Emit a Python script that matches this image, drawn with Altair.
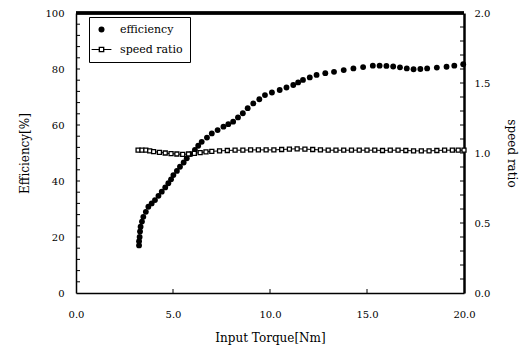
import altair as alt
import pandas as pd

# ---- data ----
torque_eff = [3.25, 3.25, 3.28, 3.30, 3.33, 3.40, 3.47, 3.60, 3.73, 3.90, 4.07, 4.25, 4.42, 4.60,
              4.76, 4.90, 5.02, 5.20, 5.36, 5.55, 5.71, 5.92, 6.13, 6.30, 6.48, 6.75, 7.00, 7.30,
              7.60, 7.85, 8.10, 8.35, 8.60, 8.85, 9.14, 9.45, 9.74, 10.1, 10.5, 10.85, 11.2, 11.45,
              11.7, 12.05, 12.4, 12.85, 13.3, 13.8, 14.3, 14.8, 15.3, 15.65, 16.0, 16.35, 16.7,
              17.05, 17.4, 17.75, 18.1, 18.6, 19.1, 19.5, 19.96]
efficiency = [17.0, 18.5, 20.0, 22.0, 23.7, 25.5, 27.2, 29.0, 30.8, 32.0, 33.2, 34.7, 36.2, 37.7,
              39.2, 40.6, 42.1, 43.6, 45.1, 46.6, 48.1, 49.6, 51.1, 52.6, 54.0, 55.5, 57.0, 58.2,
              59.4, 60.3, 61.2, 62.7, 64.2, 66.0, 67.7, 69.2, 70.7, 71.6, 72.5, 73.4, 74.3, 75.2,
              76.1, 77.0, 77.9, 78.5, 79.0, 79.6, 80.2, 80.7, 81.2, 81.2, 81.1, 80.9, 80.6,
              80.2, 79.9, 80.0, 80.2, 80.5, 80.8, 81.2, 81.7]

torque_ratio = [3.2, 3.4, 3.6, 3.8, 4.0, 4.3, 4.6, 4.9, 5.2, 5.5, 5.8, 6.1, 6.4, 6.7, 7.0, 7.4,
                7.8, 8.2, 8.6, 9.0, 9.4, 9.8, 10.2, 10.6, 11.0, 11.4, 11.8, 12.2, 12.6, 13.0, 13.4,
                13.8, 14.2, 14.6, 15.0, 15.4, 15.8, 16.2, 16.6, 17.0, 17.4, 17.8, 18.2, 18.6, 19.0,
                19.4, 19.7, 20.0]
speed_ratio = [1.02, 1.02, 1.02, 1.015, 1.01, 1.005, 1.0, 0.995, 0.993, 0.99, 0.993, 0.998, 1.003,
               1.008, 1.012, 1.015, 1.018, 1.02, 1.02, 1.022, 1.022, 1.022, 1.022, 1.025, 1.028,
               1.03, 1.028, 1.025, 1.022, 1.02, 1.02, 1.02, 1.02, 1.02, 1.02, 1.02, 1.018, 1.02,
               1.02, 1.018, 1.015, 1.015, 1.015, 1.018, 1.02, 1.02, 1.02, 1.02]

x_label_values = [0, 5, 10, 15, 20]
left_label_values = [0, 20, 40, 60, 80, 100]
right_label_values = [0, 0.5, 1.0, 1.5, 2.0]
x_inner_ticks = [5, 10, 15]
left_inner_ticks = list(range(4, 100, 4))
right_inner_ticks = [round(0.1 * i, 1) for i in range(1, 20)]
series_names = ["efficiency", "speed ratio"]

# ---- layout / style ----
W, H = 388, 280
FONT = "DejaVu Serif"

df_eff = pd.DataFrame({"t": torque_eff, "eff": efficiency, "series": series_names[0]})
df_ratio = pd.DataFrame({"t": torque_ratio, "ratio": speed_ratio})
df_xt = pd.DataFrame({"v": x_inner_ticks})
df_lt = pd.DataFrame({"v": left_inner_ticks})
df_rt = pd.DataFrame({"v": right_inner_ticks})

x_scale = alt.Scale(domain=[0, 20], nice=False, zero=False)
eff_scale = alt.Scale(domain=[0, 100], nice=False)
ratio_scale = alt.Scale(domain=[0, 2], nice=False)

x_axis = alt.Axis(values=x_label_values, format=".1f", title="Input Torque[Nm]", ticks=False,
                  grid=False, domainColor="black", domainWidth=1.5, labelPadding=16,
                  titlePadding=13, labelFlush=False)
left_axis = alt.Axis(orient="left", values=left_label_values, format="d", title="Efficiency[%]",
                     ticks=False, grid=False, domainColor="black", domainWidth=1.5,
                     labelPadding=12, titlePadding=13, labelFlush=False)
right_axis = alt.Axis(orient="right", values=right_label_values, format=".1f", title="speed ratio",
                      ticks=False, grid=False, domainColor="black", domainWidth=2.5,
                      labelPadding=10, titlePadding=15, labelFlush=False)


def X(field):
    return alt.X(f"{field}:Q", scale=x_scale, axis=x_axis)


def YL(field):
    return alt.Y(f"{field}:Q", scale=eff_scale, axis=left_axis)


def YR(field):
    return alt.Y(f"{field}:Q", scale=ratio_scale, axis=right_axis)


LEGEND_LINE_SQUARE = ("M-3.3,-0.2 L-0.95,-0.2 L-0.95,0.2 L-3.3,0.2 Z "
                      "M0.95,-0.2 L3.3,-0.2 L3.3,0.2 L0.95,0.2 Z "
                      "M-0.95,-0.95 L0.95,-0.95 L0.95,0.95 L-0.95,0.95 Z "
                      "M-0.5,-0.5 L-0.5,0.5 L0.5,0.5 L0.5,-0.5 Z")

top_border = alt.Chart(df_xt).mark_rule(color="black", strokeWidth=3).encode(
    x=alt.value(0), x2=alt.value(W), y=alt.value(0))

x_ticks = alt.Chart(df_xt).mark_rule(color="black", strokeWidth=1).encode(
    x=X("v"), y=alt.value(H - 4), y2=alt.value(H))

left_ticks = alt.Chart(df_lt).mark_rule(color="black", strokeWidth=1).encode(
    y=YL("v"), x=alt.value(0), x2=alt.value(4))

eff_points = alt.Chart(df_eff).mark_point(filled=True, color="black", size=34, opacity=1).encode(
    x=X("t"), y=YL("eff"),
    shape=alt.Shape("series:N",
                    scale=alt.Scale(domain=series_names, range=["circle", LEGEND_LINE_SQUARE]),
                    legend=alt.Legend(title=None, orient="none", legendX=13, legendY=4,
                                      strokeColor="black", fillColor="white", padding=7,
                                      labelFont=FONT, labelFontSize=11, labelColor="black",
                                      labelOffset=13, symbolSize=36, symbolFillColor="black",
                                      symbolStrokeWidth=0, rowPadding=8)))

left = alt.layer(top_border, x_ticks, left_ticks, eff_points)

ratio_line = alt.Chart(df_ratio).mark_line(color="black", strokeWidth=1).encode(
    x=X("t"), y=YR("ratio"))
ratio_points = alt.Chart(df_ratio).mark_point(shape="square", filled=False, color="black",
                                              fill="white", fillOpacity=1, size=16,
                                              strokeWidth=1.3, opacity=1).encode(
    x=X("t"), y=YR("ratio"))
right_ticks = alt.Chart(df_rt).mark_rule(color="black", strokeWidth=1).encode(
    y=YR("v"), x=alt.value(W - 4), x2=alt.value(W))

right = alt.layer(ratio_line, ratio_points, right_ticks)

chart = alt.layer(left, right).resolve_scale(y="independent").properties(
    width=W, height=H,
    padding={"left": 76, "top": 13, "right": 62, "bottom": 56},
    autosize=alt.AutoSizeParams(type="none"),
    background="white",
).configure(font=FONT).configure_view(stroke=None).configure_axis(
    labelFont=FONT, titleFont=FONT, labelColor="black", titleColor="black",
    labelFontSize=10, titleFontSize=12, titleFontWeight="normal",
).configure_legend(
    labelFont=FONT, labelFontSize=11, labelColor="black",
)

chart.save("out.html", embed_options={"renderer": "svg", "actions": False})
